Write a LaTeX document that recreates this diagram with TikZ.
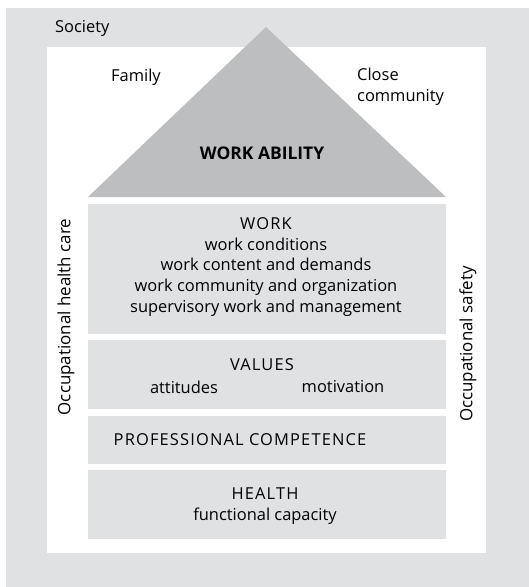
\documentclass[tikz,border=0pt]{standalone}
\usepackage{fontspec}
\setmainfont{Open Sans}
\newfontfamily\capsfont[LetterSpace=7]{Open Sans}
\usepackage{tikz}
\usetikzlibrary{positioning}
\definecolor{lightgrey}{HTML}{E0E1E3}
\definecolor{roofgrey}{HTML}{BDBEC0}
\tikzstyle{layer}=[fill=lightgrey]
\tikzstyle{label}=[font=\fontsize{16.5}{21}\selectfont, align=center, inner sep=0pt]
% one storey of the house: fill, corners (x1,y1) and (x2,y2)
\newcommand{\storey}[4]{
	\fill[layer] (#1,#2) rectangle (#3,#4);
}

\begin{document}
\begin{tikzpicture}[x=1bp, y=-1bp]
	\useasboundingbox (0,0) rectangle (529,587);
	\fill[lightgrey] (6,8) rectangle (529,587);
	\fill[white] (47,47) rectangle (486,553);
	\fill[roofgrey] (88,197) -- (266,27) -- (446,197) -- cycle;
	\storey{88}{204}{446}{334}
	\storey{88}{340}{446}{409}
	\storey{88}{416}{446}{464}
	\storey{88}{470}{446}{539}
	\node[label, anchor=west] (society) at (55,28) {Society};
	\node[label] (family) at (136,77) {Family};
	\node[label, align=left, anchor=west] (close) at (357,87) {Close\\community};
	\node[label, font=\fontsize{17.5}{21}\selectfont\bfseries] (ability) at (262,153) {WORK ABILITY};
	\node[label] (work) at (266,267) {{\capsfont WORK}\\work conditions\\work content and demands\\work community and organization\\supervisory work and management};
	\node[label] (values) at (262,365) {\capsfont VALUES};
	\node[label] (attitudes) at (184,387) {attitudes};
	\node[label] (motivation) at (343,387) {motivation};
	\node[label] (competence) at (240,440) {\capsfont PROFESSIONAL COMPETENCE};
	\node[label] (health) at (265,506) {{\capsfont HEALTH}\\functional capacity};
	\node[label, font=\fontsize{17}{21}\selectfont, rotate=90] (care) at (66,317) {Occupational health care};
	\node[label, font=\fontsize{17}{21}\selectfont, rotate=90] (safety) at (468,344) {Occupational safety};
\end{tikzpicture}
\end{document}
